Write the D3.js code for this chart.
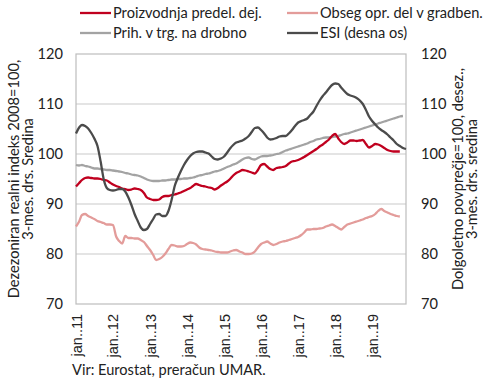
<!DOCTYPE html>
<html><head><meta charset="utf-8">
<script src="https://cdn.jsdelivr.net/npm/d3@7"></script>
<style>
html,body{margin:0;padding:0;background:#fff;}
svg{display:block;font-family:Lato,"Open Sans",sans-serif;}
</style></head>
<body><svg id="c" width="490" height="381"></svg>
<script>
// Monthly data, Jan 2011 onwards
const startYear = 2011;
const proizvodnja = [93.5,94.2,94.8,95.2,95.3,95.2,95.1,95.1,95.0,94.8,94.7,94.3,93.9,93.6,93.4,93.1,93.0,92.8,92.9,93.1,93.0,92.8,92.2,91.3,91.0,90.8,90.8,90.9,91.4,91.6,91.6,91.8,91.9,92.1,92.3,92.6,92.9,93.2,93.6,94.0,93.8,93.6,93.5,93.3,93.2,92.9,93.2,93.7,94.1,94.5,95.0,95.7,96.2,96.5,96.8,96.7,96.5,96.3,96.1,96.8,97.8,98.0,97.5,97.0,96.8,97.2,97.3,97.4,97.6,98.1,98.5,98.6,98.8,99.1,99.4,99.8,100.2,100.6,101.0,101.5,101.9,102.4,102.9,103.6,104.0,103.1,102.4,102.0,102.3,102.7,102.7,102.6,102.7,102.8,102.0,101.3,101.6,102.0,101.9,101.6,101.2,100.8,100.6,100.5,100.5,100.5];
const gradbenistvo = [85.5,86.5,87.8,88.0,87.6,87.3,87.0,86.6,86.4,86.2,85.9,85.9,85.8,83.5,82.6,82.1,83.6,83.2,83.2,83.1,83.1,82.8,82.4,81.6,80.8,79.8,78.8,79.0,79.4,80.1,81.0,81.8,81.7,81.5,81.5,81.6,82.0,82.3,82.2,81.9,81.3,81.0,80.9,80.8,80.7,80.5,80.4,80.3,80.3,80.3,80.5,80.7,80.8,80.5,80.3,80.0,80.0,80.1,80.5,81.3,82.0,82.3,82.5,82.1,81.8,82.0,82.3,82.5,82.6,82.8,83.0,83.2,83.4,83.8,84.3,84.9,84.9,85.0,85.0,85.1,85.2,85.5,85.7,85.9,85.6,85.2,84.9,85.4,85.9,86.1,86.3,86.5,86.7,86.9,87.2,87.4,87.6,88.0,88.6,89.0,88.6,88.3,88.0,87.8,87.6,87.5];
const trgovina = [97.8,97.7,97.8,97.6,97.5,97.3,97.1,97.1,97.0,96.9,96.8,96.8,96.7,96.6,96.5,96.4,96.2,96.1,95.9,95.8,95.7,95.5,95.2,94.9,94.7,94.6,94.6,94.6,94.7,94.7,94.8,94.9,94.9,95.0,95.0,95.1,95.1,95.2,95.3,95.5,95.7,95.8,96.0,96.1,96.3,96.5,96.6,96.8,97.1,97.4,97.6,97.9,98.1,98.5,98.9,99.2,99.3,99.0,98.9,99.2,99.5,99.6,99.6,99.7,99.8,100.0,100.1,100.4,100.7,100.9,101.1,101.3,101.5,101.7,101.9,102.1,102.4,102.6,102.9,103.0,103.2,103.3,103.3,103.4,103.5,103.6,103.8,104.0,104.1,104.3,104.5,104.7,104.9,105.1,105.3,105.5,105.7,105.9,106.1,106.3,106.5,106.7,106.9,107.1,107.3,107.5,107.6];
const esi = [104.1,105.3,105.8,105.6,105.1,104.2,103.1,101.6,98.5,95.0,93.2,92.8,92.7,92.8,93.0,93.0,92.5,91.3,89.8,88.0,86.6,85.3,84.8,85.0,86.0,87.0,87.9,88.0,87.6,87.6,88.6,90.8,93.6,95.2,96.6,97.8,98.8,99.6,100.1,100.4,100.5,100.5,100.3,100.1,99.5,99.0,98.9,99.1,99.5,100.3,101.1,101.8,102.3,102.5,102.7,103.1,103.6,104.4,105.2,105.3,104.8,104.1,103.3,102.9,103.0,103.2,103.5,103.6,103.6,104.1,104.8,105.6,106.3,106.6,106.8,107.1,107.8,108.5,109.6,110.7,111.6,112.3,113.1,113.8,114.1,114.0,113.3,112.6,112.0,111.7,111.5,111.2,110.7,110.0,108.8,107.5,106.6,105.9,105.3,104.8,104.4,103.9,103.3,102.7,102.0,101.6,101.2,101.0];

const seriesNames = ["Proizvodnja predel. dej.","Obseg opr. del v gradben.","Prih. v trg. na drobno","ESI (desna os)"];
const seriesColors = ["#C0001F","#E39C9A","#A3A3A3","#4B4B4B"];
const yTicks = [70,80,90,100,110,120];
const xTickLabels = ["jan..11","jan..12","jan..13","jan..14","jan..15","jan..16","jan..17","jan..18","jan..19"];
const leftTitle = ["Dezezoniran realni indeks 2008=100,","3-mes. drs. Sredina"];
const rightTitle = ["Dolgoletno povprečje=100, desez.,","3-mes. drs. sredina"];
const sourceText = "Vir: Eurostat, preračun UMAR.";

const svg = d3.select("#c");
const FS = 14.6;
const L = 76, R = 406, T = 54, B = 304;
const months = d => new Date(startYear, d, 1);
const x = d3.scaleTime().domain([new Date(2011,0,1), new Date(2019,11,1)]).range([L, R]);
const yL = d3.scaleLinear().domain([70,120]).range([B, T]);
const yR = d3.scaleLinear().domain([70,120]).range([B, T]);

// gridlines
svg.append("g").selectAll("line").data(yTicks.slice(1,-1)).join("line")
  .attr("x1", L).attr("x2", R).attr("y1", d => yL(d)).attr("y2", d => yL(d))
  .attr("stroke", "#C9C9C9").attr("stroke-width", 1.2);
// plot border
svg.append("rect").attr("x", L).attr("y", T).attr("width", R-L).attr("height", B-T)
  .attr("fill", "none").attr("stroke", "#BDBDBD").attr("stroke-width", 1.2);

// left axis
const axL = d3.axisLeft(yL).tickValues(yTicks).tickSize(0).tickPadding(13);
const gL = svg.append("g").attr("transform", `translate(${L},0)`).call(axL);
gL.select(".domain").remove();
gL.selectAll("text").attr("font-size", FS).attr("fill", "#222").attr("font-family","Lato,sans-serif");
const axR = d3.axisRight(yR).tickValues(yTicks).tickSize(0).tickPadding(15);
const gR = svg.append("g").attr("transform", `translate(${R},0)`).call(axR);
gR.select(".domain").remove();
gR.selectAll("text").attr("font-size", FS).attr("fill", "#222").attr("font-family","Lato,sans-serif");

// x axis labels
const xTickDates = xTickLabels.map((d,i) => new Date(startYear + i, 0, 1));
const axX = d3.axisBottom(x).tickValues(xTickDates).tickSize(0).tickPadding(0)
  .tickFormat((d,i) => xTickLabels[i]);
const gX = svg.append("g").attr("transform", `translate(0,${B})`).call(axX);
gX.select(".domain").remove();
gX.selectAll("text").attr("font-size", 14.5).attr("fill", "#222")
  .attr("text-anchor", "end").attr("dy", null).attr("y", 0)
  .attr("transform", "translate(5,10) rotate(-90)");

// lines
const allSeries = [
  {vals: gradbenistvo, c: seriesColors[1], y: yL},
  {vals: trgovina, c: seriesColors[2], y: yL},
  {vals: proizvodnja, c: seriesColors[0], y: yL},
  {vals: esi, c: seriesColors[3], y: yR},
];
allSeries.forEach(s => {
  const line = d3.line().x((d,i) => x(months(i))).y(d => s.y(d)).curve(d3.curveMonotoneX);
  svg.append("path").datum(s.vals).attr("d", line).attr("fill", "none")
    .attr("stroke", s.c).attr("stroke-width", 2.3).attr("stroke-linejoin","round");
});

// legend
const leg = [
  {i:0, x:80, y:13}, {i:1, x:287, y:13}, {i:2, x:80, y:33}, {i:3, x:287, y:33}
];
leg.forEach(l => {
  svg.append("line").attr("x1", l.x).attr("x2", l.x+31).attr("y1", l.y).attr("y2", l.y)
    .attr("stroke", seriesColors[l.i]).attr("stroke-width", 2.3);
  svg.append("text").attr("x", l.x+33).attr("y", l.y).attr("dy","0.35em")
    .attr("font-size", FS).attr("fill", "#222").text(seriesNames[l.i]);
});

// axis titles
const midY = (T+B)/2;
leftTitle.forEach((t,i) => {
  svg.append("text").attr("transform", `translate(${14 + i*14},${midY}) rotate(-90)`)
    .attr("text-anchor","middle").attr("dy","0.35em").attr("font-size", FS).attr("fill","#222").text(t);
});
rightTitle.forEach((t,i) => {
  svg.append("text").attr("transform", `translate(${458 + i*14},${midY}) rotate(-90)`)
    .attr("text-anchor","middle").attr("dy","0.35em").attr("font-size", FS).attr("fill","#222").text(t);
});

svg.append("text").attr("x", 72).attr("y", 375).attr("font-size", FS).attr("fill","#222").text(sourceText);
</script></body></html>
